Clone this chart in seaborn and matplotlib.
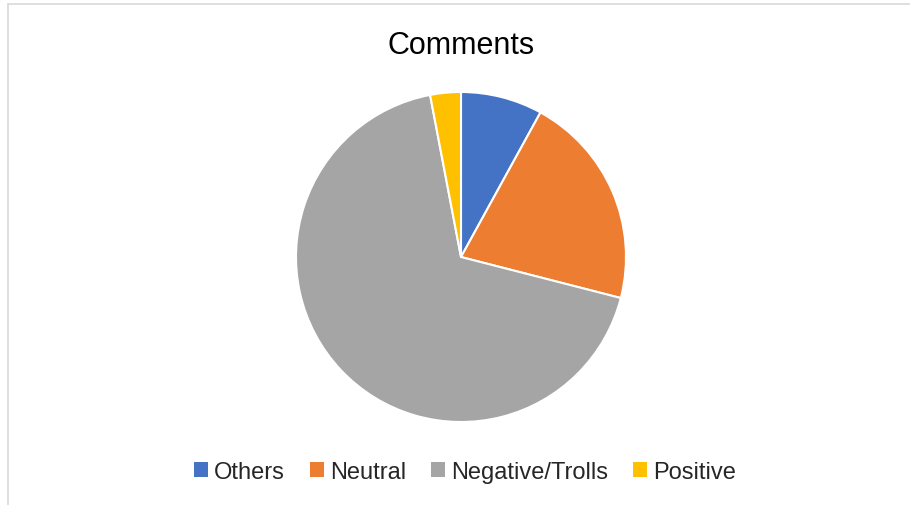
import matplotlib
matplotlib.use("Agg")
import matplotlib.pyplot as plt
from matplotlib.lines import Line2D
from matplotlib.patches import Patch
import seaborn as sns

# Share of comments by sentiment
categories = ["Others", "Neutral", "Negative/Trolls", "Positive"]
shares = [8, 21, 68, 3]
colors = ["#4472C4", "#ED7D31", "#A5A5A5", "#FFC000"]

sns.set_theme(style="white")
plt.rcParams["font.family"] = ["Liberation Sans", "DejaVu Sans"]
palette = sns.color_palette(colors)

fig = plt.figure(figsize=(9.10, 5.06), dpi=100)
fig.patch.set_facecolor("white")

# Chart-area frame (top and left edges visible)
fig.add_artist(Line2D([8 / 910, 8 / 910], [0, 1 - 5 / 506], transform=fig.transFigure,
                      color="#D9D9D9", lw=1.2))
fig.add_artist(Line2D([8 / 910, 1], [1 - 5 / 506, 1 - 5 / 506], transform=fig.transFigure,
                      color="#D9D9D9", lw=1.2))

cx, cy, r = 461, 258, 165
ax = fig.add_axes([(cx - r) / 910, (506 - cy - r) / 506, 2 * r / 910, 2 * r / 506])
ax.pie(shares, colors=palette, startangle=90, counterclock=False,
       wedgeprops=dict(edgecolor="white", linewidth=1.5))
ax.set_xlim(-1.0, 1.0)
ax.set_ylim(-1.0, 1.0)
ax.set_aspect("equal")
ax.axis("off")

fig.text(461 / 910, 1 - 46 / 506, "Comments", ha="center", va="center",
         fontsize=22, color="#000000")

handles = [Patch(facecolor=c, edgecolor="none") for c in palette]
fig.legend(handles, categories, loc="center", bbox_to_anchor=(0.511, 1 - 473 / 506),
           ncol=4, frameon=False, fontsize=17, handlelength=0.6, handleheight=0.6,
           handletextpad=0.25, columnspacing=1.06, borderpad=0)

fig.savefig("out.png", dpi=100, facecolor="white")
